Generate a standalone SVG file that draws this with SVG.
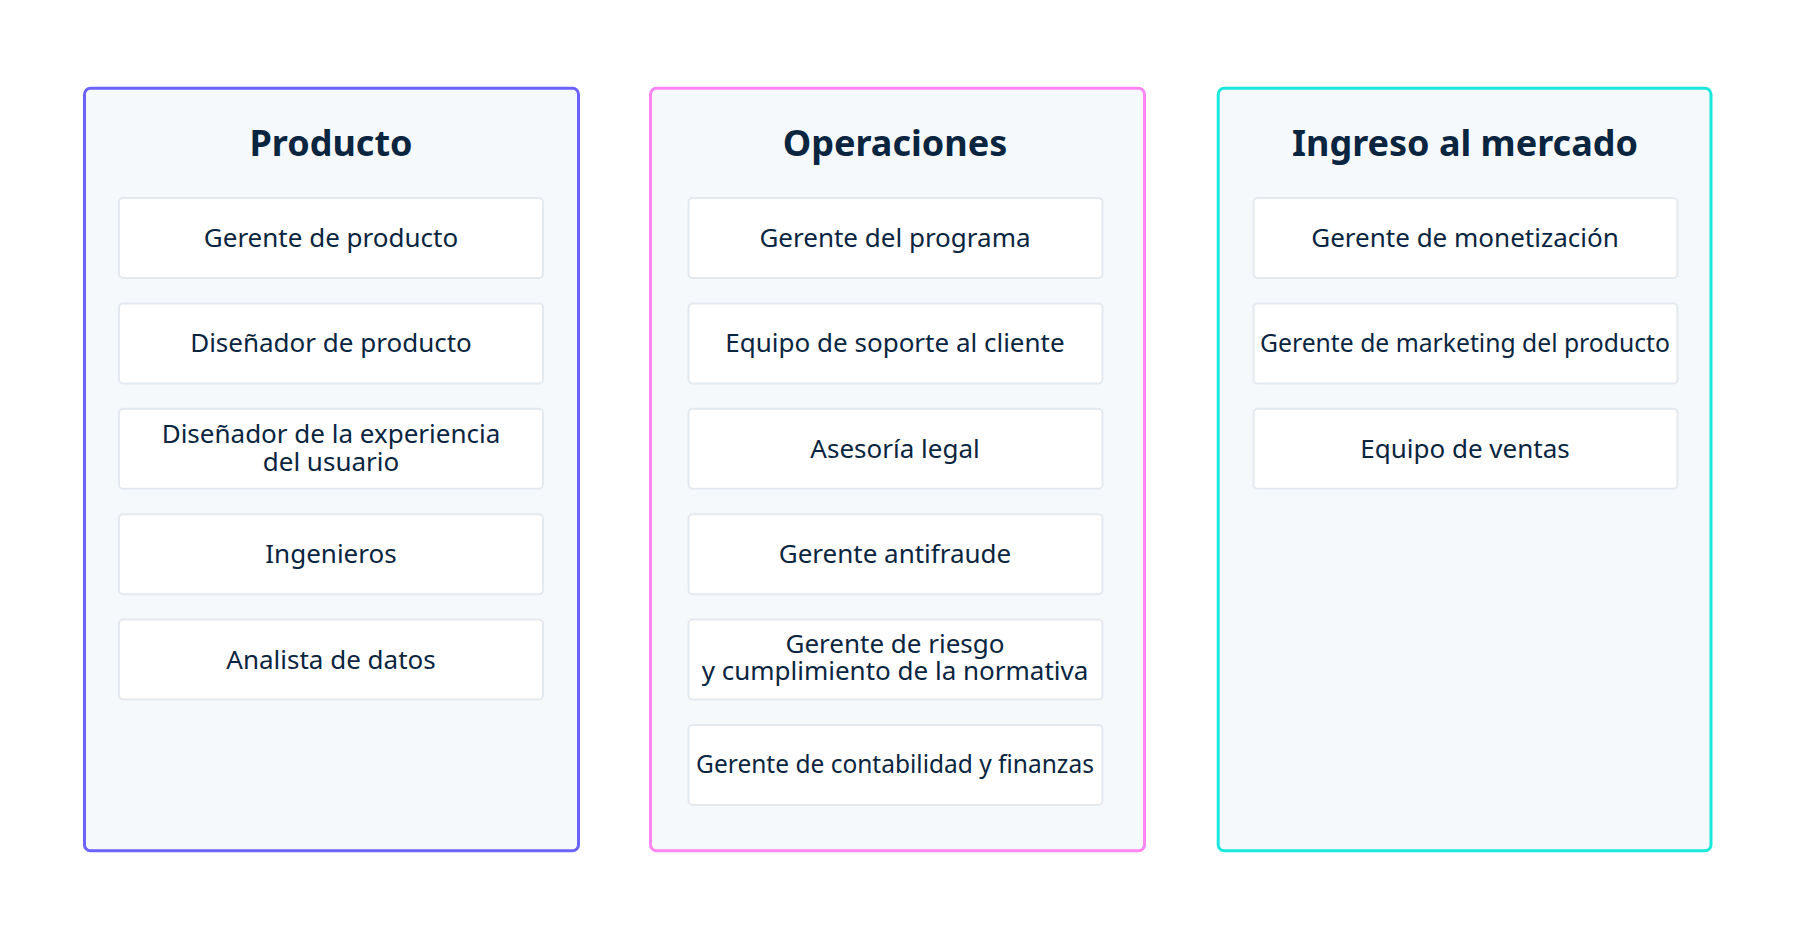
<svg xmlns="http://www.w3.org/2000/svg" width="1800" height="938" viewBox="0 0 1800 938">
<style>
.panel{fill:#f6f9fc;stroke-width:3}
.card{fill:#ffffff;stroke:#e4e9ef;stroke-width:2}
.title{font-family:"Noto Sans","Open Sans","Liberation Sans",sans-serif;font-weight:700;font-size:36px;fill:#0a2540;text-anchor:middle}
.lbl{font-family:"Noto Sans","Open Sans","Liberation Sans",sans-serif;font-size:26px;fill:#0a2540;text-anchor:middle}
</style>
<rect width="1800" height="938" fill="#ffffff"/>
<g id="producto">
<rect class="panel" x="84.5" y="88.2" width="494" height="762.5" rx="6" stroke="#6c63ff"/>
<text class="title" x="331" y="156">Producto</text>
<g id="p1"><rect class="card" x="119" y="198" width="424" height="80" rx="4"/><text class="lbl" x="331" y="247">Gerente de producto</text></g>
<g id="p2"><rect class="card" x="119" y="303.4" width="424" height="80" rx="4"/><text class="lbl" x="331" y="352.4">Diseñador de producto</text></g>
<g id="p3"><rect class="card" x="119" y="408.8" width="424" height="80" rx="4"/><text class="lbl" x="331" y="442.5">Diseñador de la experiencia</text><text class="lbl" x="331" y="470.5">del usuario</text></g>
<g id="p4"><rect class="card" x="119" y="514.2" width="424" height="80" rx="4"/><text class="lbl" x="331" y="563.2">Ingenieros</text></g>
<g id="p5"><rect class="card" x="119" y="619.6" width="424" height="80" rx="4"/><text class="lbl" x="331" y="668.6">Analista de datos</text></g>
</g>
<g id="operaciones">
<rect class="panel" x="650.5" y="88.2" width="494" height="762.5" rx="6" stroke="#ff85f3"/>
<text class="title" x="895" y="156">Operaciones</text>
<g id="o1"><rect class="card" x="688.5" y="198" width="414" height="80" rx="4"/><text class="lbl" x="895" y="247">Gerente del programa</text></g>
<g id="o2"><rect class="card" x="688.5" y="303.4" width="414" height="80" rx="4"/><text class="lbl" x="895" y="352.4">Equipo de soporte al cliente</text></g>
<g id="o3"><rect class="card" x="688.5" y="408.8" width="414" height="80" rx="4"/><text class="lbl" x="895" y="457.8">Asesoría legal</text></g>
<g id="o4"><rect class="card" x="688.5" y="514.2" width="414" height="80" rx="4"/><text class="lbl" x="895" y="563.2">Gerente antifraude</text></g>
<g id="o5"><rect class="card" x="688.5" y="619.6" width="414" height="80" rx="4"/><text class="lbl" x="895" y="652.5">Gerente de riesgo</text><text class="lbl" x="895" y="680">y cumplimiento de la normativa</text></g>
<g id="o6"><rect class="card" x="688.5" y="725" width="414" height="80" rx="4"/><text class="lbl" x="895" y="773" style="font-size:24.5px">Gerente de contabilidad y finanzas</text></g>
</g>
<g id="mercado">
<rect class="panel" x="1218.2" y="88.2" width="492.8" height="762.5" rx="6" stroke="#1ae8dc"/>
<text class="title" x="1465" y="156">Ingreso al mercado</text>
<g id="m1"><rect class="card" x="1253.5" y="198" width="424" height="80" rx="4"/><text class="lbl" x="1465" y="247">Gerente de monetización</text></g>
<g id="m2"><rect class="card" x="1253.5" y="303.4" width="424" height="80" rx="4"/><text class="lbl" x="1465" y="352.4" style="font-size:24.7px">Gerente de marketing del producto</text></g>
<g id="m3"><rect class="card" x="1253.5" y="408.8" width="424" height="80" rx="4"/><text class="lbl" x="1465" y="457.8">Equipo de ventas</text></g>
</g>
<g id="connectors"/>
</svg>
